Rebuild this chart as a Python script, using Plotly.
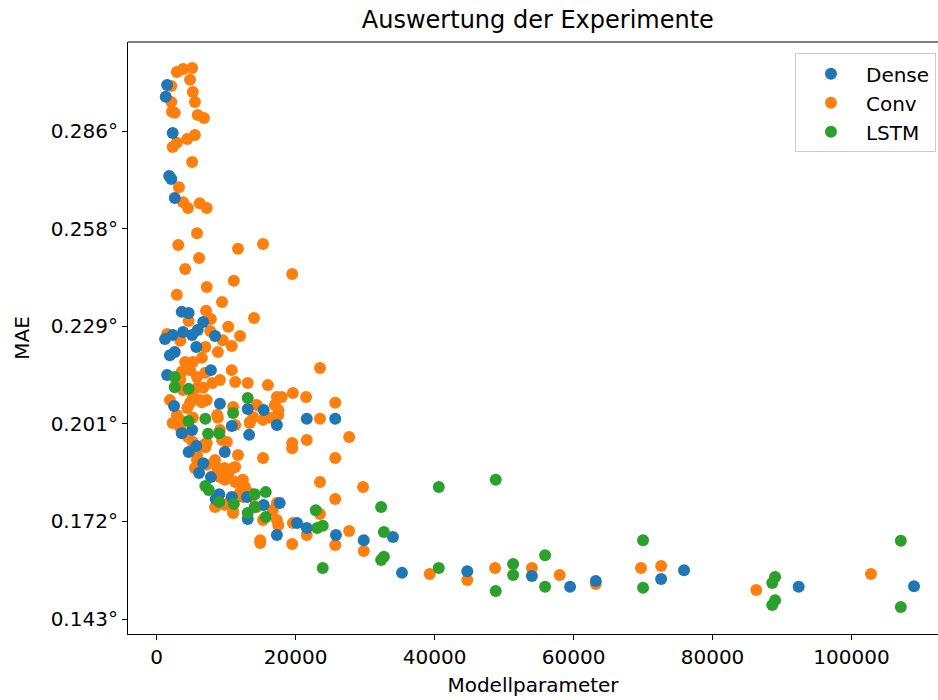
import plotly.graph_objects as go

# ---- data (Modellparameter vs MAE in degrees) ----
dense_x = [1500, 1300, 2300, 1800, 2100, 2600, 3600, 4600, 6700, 5900, 8400, 1200, 2300, 3800, 5100,
           5700, 1900, 2600, 7800, 1500, 2500, 9100, 13100, 15400, 10800, 13300, 17300, 21600, 25700,
           3600, 5100, 5700, 4600, 9800, 6700, 6100, 7800, 9000, 10800, 13000, 15400, 17700, 8500,
           13100, 17300, 20200, 21600, 25800, 29800, 34000, 35300, 44700, 54000, 59500, 63200, 72600,
           75900, 92400, 109000]
dense_y = [0.3000, 0.2965, 0.2859, 0.2733, 0.2724, 0.2668, 0.2334, 0.2331, 0.2304, 0.2281, 0.2263,
           0.2254, 0.2266, 0.2275, 0.2266, 0.2231, 0.2207, 0.2216, 0.2163, 0.2149, 0.2058, 0.2064,
           0.2049, 0.2046, 0.1999, 0.1973, 0.2002, 0.2020, 0.2020, 0.1978, 0.1987, 0.1940, 0.1923,
           0.1923, 0.1890, 0.1861, 0.1849, 0.1799, 0.1791, 0.1791, 0.1767, 0.1773, 0.1785, 0.1726,
           0.1679, 0.1714, 0.1700, 0.1679, 0.1664, 0.1673, 0.1568, 0.1573, 0.1559, 0.1527, 0.1544,
           0.1550, 0.1576, 0.1527, 0.1529]

conv_x = [2900, 3800, 5100, 4800, 2100, 5200, 5500, 2100, 2200, 2600, 5900, 6800, 2300, 2900, 4400,
          5500, 5100, 3200, 3800, 4500, 6200, 7200, 5800, 3100, 11700, 15300, 6100, 4100, 19500, 7200,
          11100, 2900, 9400, 14000, 7100, 4600, 7800, 10300, 12000, 1500, 3400, 7700, 9500, 10800,
          8800, 7000, 4100, 5200, 6500, 23500, 10800, 9100, 8000, 11300, 13100, 16000, 17300, 18000,
          19600, 21500, 25700, 7000, 5200, 3400, 1900, 5900, 3600, 6200, 4800, 5800, 3800, 6700,
          7200, 4400, 11000, 14400, 17000, 2900, 8700, 13900, 16300, 4800, 6500, 8800, 3400, 5200,
          2300, 11300, 13400, 15300, 17500, 17500, 19500, 19500, 21600, 23500, 27700, 25700, 15300,
          11700, 9400, 7200, 8400, 5800, 7000, 5500, 9800, 11300, 10300, 9800, 12400, 12700, 12000,
          13400, 12400, 9100, 11000, 9800, 15300, 16700, 17300, 17500, 19600, 21600, 23500, 25700,
          14900, 19500, 25700, 27700, 23500, 29700, 17300, 5200, 4500, 6700, 5800, 7200, 8700, 9100,
          10100, 11000, 10100, 9100, 13400, 11300, 13700, 10500, 11000, 8400, 8800, 14400, 14900,
          2900, 3400, 29800, 39300, 44700, 48700, 54000, 58000, 63200, 69700, 72600, 86300, 102800]
conv_y = [0.3038, 0.3047, 0.3050, 0.3015, 0.2997, 0.2979, 0.2950, 0.2950, 0.2921, 0.2918, 0.2912,
          0.2903, 0.2818, 0.2830, 0.2841, 0.2853, 0.2774, 0.2700, 0.2656, 0.2639, 0.2653, 0.2639,
          0.2565, 0.2530, 0.2519, 0.2533, 0.2492, 0.2460, 0.2445, 0.2407, 0.2425, 0.2384, 0.2363,
          0.2316, 0.2337, 0.2307, 0.2313, 0.2290, 0.2263, 0.2269, 0.2249, 0.2278, 0.2251, 0.2234,
          0.2216, 0.2231, 0.2187, 0.2187, 0.2199, 0.2169, 0.2163, 0.2134, 0.2125, 0.2128, 0.2125,
          0.2119, 0.2084, 0.2084, 0.2096, 0.2084, 0.2067, 0.2155, 0.2084, 0.2134, 0.2075, 0.2113,
          0.2158, 0.2075, 0.2163, 0.2143, 0.2105, 0.2111, 0.2075, 0.2052, 0.2055, 0.2061, 0.2061,
          0.2031, 0.2031, 0.2025, 0.2023, 0.2067, 0.2069, 0.2023, 0.2017, 0.2023, 0.2008, 0.2002,
          0.2008, 0.2017, 0.2046, 0.2031, 0.1949, 0.1934, 0.1958, 0.2020, 0.1967, 0.1905, 0.1905,
          0.1914, 0.1958, 0.1949, 0.1899, 0.1914, 0.1937, 0.1876, 0.1876, 0.1879, 0.1855, 0.1841,
          0.1841, 0.1820, 0.1805, 0.1802, 0.1791, 0.1773, 0.1747, 0.1767, 0.1723, 0.1752, 0.1723,
          0.1708, 0.1714, 0.1679, 0.1835, 0.1785, 0.1656, 0.1653, 0.1650, 0.1691, 0.1741, 0.1820,
          0.1773, 0.1952, 0.1967, 0.1943, 0.1899, 0.1885, 0.1876, 0.1849, 0.1864, 0.1876, 0.1952,
          0.1987, 0.2011, 0.1835, 0.1791, 0.1776, 0.1744, 0.1761, 0.1782, 0.1761, 0.1664, 0.2017,
          0.1994, 0.1632, 0.1565, 0.1547, 0.1582, 0.1582, 0.1562, 0.1535, 0.1582, 0.1588, 0.1518,
          0.1565]

lstm_x = [2600, 2600, 4600, 13100, 11000, 4600, 7000, 7400, 9000, 7000, 7500, 9000, 11100, 14100,
          15700, 14100, 13100, 15700, 22900, 23900, 23100, 23900, 32300, 32700, 32300, 32700, 40600,
          40600, 48800, 48800, 51300, 51300, 55900, 55900, 70000, 70000, 89000, 88600, 89000, 88600,
          107100, 107100]
lstm_y = [0.2143, 0.2113, 0.2108, 0.2081, 0.2037, 0.2014, 0.2020, 0.1976, 0.1978, 0.1823, 0.1811,
          0.1776, 0.1770, 0.1799, 0.1805, 0.1761, 0.1744, 0.1732, 0.1752, 0.1706, 0.1700, 0.1582,
          0.1761, 0.1688, 0.1606, 0.1615, 0.1820, 0.1582, 0.1841, 0.1515, 0.1594, 0.1562, 0.1620,
          0.1527, 0.1664, 0.1524, 0.1556, 0.1538, 0.1488, 0.1474, 0.1662, 0.1468]

x_ticks = [0, 20000, 40000, 60000, 80000, 100000]
x_tick_labels = ["0", "20000", "40000", "60000", "80000", "100000"]
y_ticks = [0.14324, 0.17189, 0.20054, 0.22918, 0.25783, 0.28648]
y_tick_labels = ["0.143°", "0.172°", "0.201°", "0.229°", "0.258°", "0.286°"]

FONT = "DejaVu Sans"

fig = go.Figure()
series = [
    ("Conv", conv_x, conv_y, "#ff7f0e", 2),
    ("Dense", dense_x, dense_y, "#1f77b4", 1),
    ("LSTM", lstm_x, lstm_y, "#2ca02c", 3),
]
for name, xs, ys, color, rank in series:
    fig.add_trace(go.Scatter(
        x=xs, y=ys, mode="markers", name=name, legendrank=rank,
        marker=dict(size=12, color=color, line=dict(width=0)),
    ))

axis_common = dict(
    showline=True, linecolor="black", linewidth=1.2,
    ticks="outside", ticklen=5, tickwidth=1.2, tickcolor="black",
    showgrid=False, zeroline=False, tickfont=dict(size=20, family=FONT, color="black"),
)

fig.update_layout(
    width=938, height=700,
    margin=dict(l=128, r=0, t=42, b=66),
    plot_bgcolor="white", paper_bgcolor="white",
    font=dict(family=FONT, size=20, color="black"),
    title=dict(text="Auswertung der Experimente", x=0.506, xref="paper", xanchor="center",
               y=1 - 20 / 700, yanchor="middle", font=dict(size=24, family=FONT, color="black")),
    xaxis=dict(range=[-4131, 112452], tickvals=x_ticks, ticktext=x_tick_labels,
               title=dict(text="Modellparameter", standoff=9, font=dict(size=20, family=FONT)),
               **axis_common),
    yaxis=dict(range=[0.13886, 0.31260], tickvals=y_ticks, ticktext=y_tick_labels,
               title=dict(text="MAE", standoff=15, font=dict(size=20, family=FONT)),
               **axis_common),
    legend=dict(x=0.9975, xanchor="right", y=0.981, yanchor="top",
                bordercolor="#cccccc", borderwidth=1, bgcolor="white",
                font=dict(size=20, family=FONT, color="black"), itemwidth=60),
    showlegend=True,
    shapes=[dict(type="line", xref="paper", yref="paper", x0=0, x1=1, y0=1, y1=1,
                 line=dict(color="black", width=1.2))],
)

fig.write_html("out.html")
